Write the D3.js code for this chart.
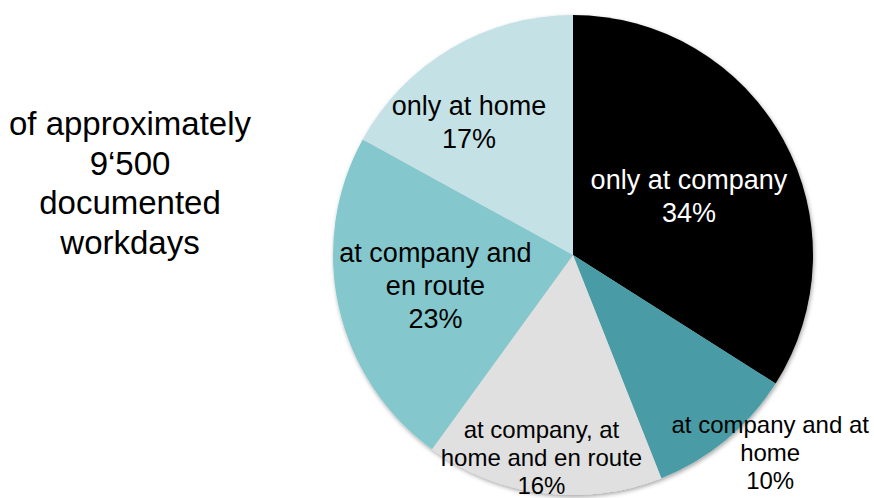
<!DOCTYPE html>
<html>
<head>
<meta charset="utf-8">
<script src="https://cdn.jsdelivr.net/npm/d3@7"></script>
<style>
  body { margin: 0; background: #fff; }
  text { font-family: "Liberation Sans", Arial, sans-serif; }
</style>
</head>
<body>
<div id="chart"></div>
<script>
// Data
var categories = ["only at company", "at company and at home", "at company, at home and en route", "at company and en route", "only at home"];
var values = [34, 10, 16, 23, 17];
var labelLines = [
    ["only at company"],
    ["at company and at", "home"],
    ["at company, at", "home and en route"],
    ["at company and", "en route"],
    ["only at home"]
];
var noteLines = ["of approximately", "9\u2018500", "documented", "workdays"];

// Styles / layout
var colors = ["#000000", "#4A9CA5", "#E0E0E0", "#84C8CE", "#C4E2E6"];
var textColors = ["#fff", "#000", "#000", "#000", "#000"];
var labelSize = [27, 24, 24, 27, 27];
var labelLead = [33, 28, 28, 33, 33];
// [radius, dx, dy] for each label
var labelPlace = [[130, 2, 4], [278, 20, -17], [204, -6, 0], [141, 0, 0], [169, -18, 12]];

var w = 874;
var h = 498;
var cx = 573, cy = 255, r = 240;

var svg = d3.select("#chart")
    .append("svg")
    .attr("width", w)
    .attr("height", h);

var defs = svg.append("defs");
var filter = defs.append("filter")
    .attr("id", "shadow")
    .attr("x", "-10%").attr("y", "-10%")
    .attr("width", "120%").attr("height", "120%");
filter.append("feDropShadow")
    .attr("dx", 1)
    .attr("dy", 2)
    .attr("stdDeviation", 2)
    .attr("flood-color", "#000")
    .attr("flood-opacity", 0.35);

var pie = d3.pie().sort(null).value(function (d) { return d; });
var arcs = pie(values);

var arc = d3.arc().innerRadius(0).outerRadius(r);

var g = svg.append("g")
    .attr("transform", "translate(" + cx + "," + cy + ")");

g.append("g")
    .attr("filter", "url(#shadow)")
    .selectAll("path")
    .data(arcs)
    .enter()
    .append("path")
    .attr("d", arc)
    .attr("fill", function (d, i) { return colors[i]; });

//Labels
g.selectAll("text.label")
    .data(arcs)
    .enter()
    .append("text")
    .attr("class", "label")
    .attr("text-anchor", "middle")
    .attr("fill", function (d, i) { return textColors[i]; })
    .attr("font-size", function (d, i) { return labelSize[i] + "px"; })
    .each(function (d, i) {
        var p = labelPlace[i];
        var c = d3.arc().innerRadius(p[0]).outerRadius(p[0]).centroid(d);
        var x = c[0] + p[1];
        var y = c[1] + p[2];
        var lines = labelLines[i].concat([values[i] + "%"]);
        var lead = labelLead[i];
        var fs = labelSize[i];
        var t = d3.select(this);
        lines.forEach(function (line, j) {
            t.append("tspan")
                .attr("x", x)
                .attr("y", y + (j - (lines.length - 1) / 2) * lead + 0.35 * fs)
                .text(line);
        });
    });

//Side note
var note = svg.append("text")
    .attr("text-anchor", "middle")
    .attr("font-size", "33px")
    .attr("fill", "#000");
noteLines.forEach(function (line, j) {
    note.append("tspan")
        .attr("x", 130)
        .attr("y", 135 + j * 39.5)
        .text(line);
});
</script>
</body>
</html>
